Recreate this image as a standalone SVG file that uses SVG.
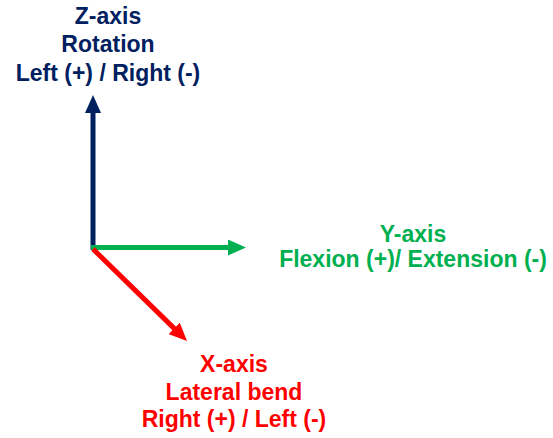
<svg xmlns="http://www.w3.org/2000/svg" width="553" height="438" viewBox="0 0 553 438">
<style>
text{font-family:"Liberation Sans",Arial,sans-serif;font-weight:bold;font-size:23px;text-anchor:middle}
.z{fill:#002060}.y{fill:#00B050}.x{fill:#FF0000}
.ax{stroke-width:5;fill:none;stroke-linecap:butt}
</style>
<defs>
<marker id="hz" markerUnits="userSpaceOnUse" markerWidth="18" markerHeight="16" refX="10" refY="8" orient="auto"><path d="M0,0L18,8L0,16z" fill="#002060"/></marker>
<marker id="hy" markerUnits="userSpaceOnUse" markerWidth="18" markerHeight="16" refX="10" refY="8" orient="auto"><path d="M0,0L18,8L0,16z" fill="#00B050"/></marker>
<marker id="hx" markerUnits="userSpaceOnUse" markerWidth="18" markerHeight="16" refX="10" refY="8" orient="auto"><path d="M0,0L18,8L0,16z" fill="#FF0000"/></marker>
</defs>
<g id="connectors">
<line class="ax" x1="93" y1="250" x2="93" y2="103" stroke="#002060" marker-end="url(#hz)"/>
<line class="ax" x1="91" y1="247.5" x2="238" y2="247.5" stroke="#00B050" marker-end="url(#hy)"/>
<line class="ax" x1="93" y1="249" x2="181.3" y2="335.4" stroke="#FF0000" marker-end="url(#hx)"/>
</g>
<g id="z-axis-label">
<text class="z" x="108" y="24">Z-axis</text>
<text class="z" x="108" y="52">Rotation</text>
<text class="z" x="108" y="81">Left (+) / Right (-)</text>
</g>
<g id="y-axis-label">
<text class="y" x="413" y="242">Y-axis</text>
<text class="y" x="413" y="267">Flexion (+)/ Extension (-)</text>
</g>
<g id="x-axis-label">
<text class="x" x="234" y="372">X-axis</text>
<text class="x" x="234" y="400">Lateral bend</text>
<text class="x" x="234" y="427">Right (+) / Left (-)</text>
</g>
</svg>
